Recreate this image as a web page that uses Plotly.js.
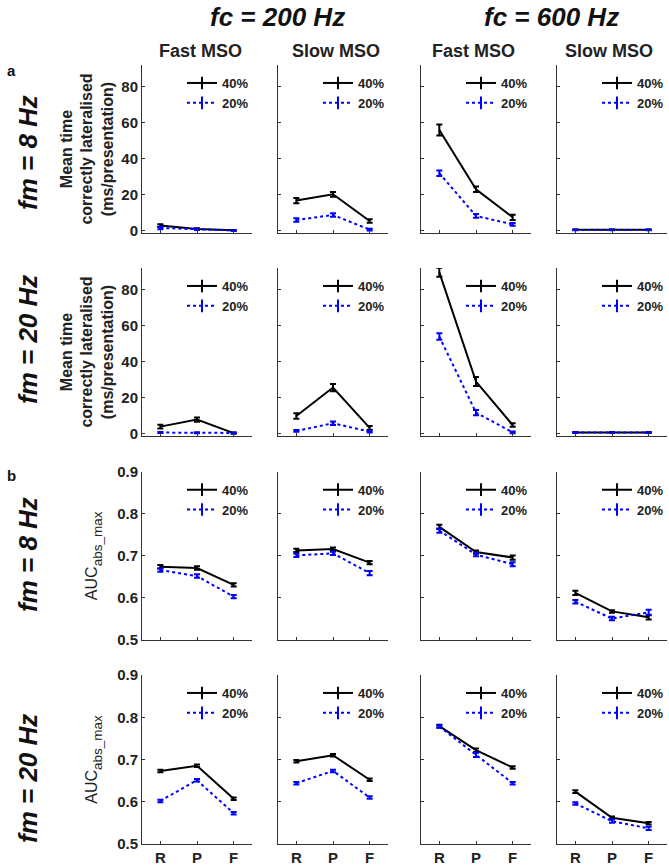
<!DOCTYPE html>
<html><head><meta charset="utf-8">
<script src="https://cdn.plot.ly/plotly-3.0.1.min.js"></script>
<style>html,body{margin:0;padding:0;background:#fff}#chart{width:669px;height:867px}</style>
</head><body><div id="chart"></div>
<script>
const categories = ['R', 'P', 'F'];
const columnTitles = ['Fast MSO', 'Slow MSO', 'Fast MSO', 'Slow MSO'];
const fcTitles = ['fc = 200 Hz', 'fc = 600 Hz'];
const rowTitles = ['fm = 8 Hz', 'fm = 20 Hz', 'fm = 8 Hz', 'fm = 20 Hz'];
const panelLetters = ['a', 'b'];
const seriesNames = ['40%', '20%'];
const timeTicks = [0, 20, 40, 60, 80];
const aucTicks = [0.5, 0.6, 0.7, 0.8, 0.9];

// columns: fc200 Fast MSO, fc200 Slow MSO, fc600 Fast MSO, fc600 Slow MSO
// a) mean time correctly lateralised (ms/presentation)
const timeFm8_40     = [[2.8, 0.9, 0.2], [16.7, 20.2, 5.4], [55.9, 23.0, 7.4], [0.5, 0.5, 0.5]];
const timeFm8_40Err  = [[0.8, 0.4, 0.2], [1.5, 1.3, 1.0], [3.0, 1.5, 1.5], [0.2, 0.2, 0.2]];
const timeFm8_20     = [[1.5, 0.7, 0.1], [5.9, 8.7, 0.6], [31.9, 8.2, 3.5], [0.4, 0.4, 0.4]];
const timeFm8_20Err  = [[0.7, 0.3, 0.1], [1.0, 1.0, 0.5], [1.5, 1.0, 0.8], [0.2, 0.2, 0.2]];
const timeFm20_40    = [[3.7, 7.6, 0.1], [9.6, 25.4, 3.0], [89.4, 28.7, 4.6], [0.5, 0.5, 0.5]];
const timeFm20_40Err = [[1.0, 1.2, 0.3], [1.5, 2.0, 1.0], [2.5, 2.5, 1.0], [0.2, 0.2, 0.2]];
const timeFm20_20    = [[0.4, 0.3, 0.2], [1.3, 5.6, 0.9], [53.7, 11.5, 0.5], [0.4, 0.4, 0.4]];
const timeFm20_20Err = [[0.3, 0.3, 0.2], [0.5, 1.0, 0.5], [1.8, 1.5, 0.5], [0.2, 0.2, 0.2]];
// b) AUC_abs_max
const aucFm8_40      = [[0.674, 0.671, 0.631], [0.713, 0.716, 0.684], [0.769, 0.709, 0.696], [0.612, 0.568, 0.554]];
const aucFm8_40Err   = [[0.004, 0.004, 0.004], [0.004, 0.004, 0.004], [0.005, 0.004, 0.005], [0.005, 0.003, 0.005]];
const aucFm8_20      = [[0.666, 0.652, 0.603], [0.701, 0.706, 0.659], [0.760, 0.703, 0.680], [0.591, 0.551, 0.566]];
const aucFm8_20Err   = [[0.004, 0.004, 0.004], [0.004, 0.004, 0.005], [0.005, 0.004, 0.005], [0.004, 0.004, 0.006]];
const aucFm20_40     = [[0.673, 0.685, 0.607], [0.696, 0.710, 0.652], [0.779, 0.722, 0.681], [0.624, 0.562, 0.549]];
const aucFm20_40Err  = [[0.003, 0.003, 0.003], [0.003, 0.003, 0.003], [0.003, 0.004, 0.003], [0.003, 0.003, 0.003]];
const aucFm20_20     = [[0.602, 0.651, 0.573], [0.644, 0.673, 0.610], [0.778, 0.711, 0.644], [0.596, 0.554, 0.537]];
const aucFm20_20Err  = [[0.003, 0.003, 0.003], [0.003, 0.003, 0.003], [0.003, 0.005, 0.003], [0.003, 0.004, 0.004]];

const rows40 = [timeFm8_40, timeFm20_40, aucFm8_40, aucFm20_40];
const rows40Err = [timeFm8_40Err, timeFm20_40Err, aucFm8_40Err, aucFm20_40Err];
const rows20 = [timeFm8_20, timeFm20_20, aucFm8_20, aucFm20_20];
const rows20Err = [timeFm8_20Err, timeFm20_20Err, aucFm8_20Err, aucFm20_20Err];

const W = 669, H = 867;
const FONT = 'Liberation Sans, Arial, sans-serif';
const INK = '#222222';
const colLeft = [142, 278, 421, 557];
const colWidth = 110;
const rowTop = [65, 268, 471.7, 675];
const rowBottom = [233, 436, 640, 844];
const yRanges = [[-1.3, 92], [-1.5, 91.8], [0.5, 0.9], [0.5, 0.9]];

const data = [];
const layout = {
  width: W, height: H,
  margin: {l: 0, r: 0, t: 0, b: 0},
  paper_bgcolor: '#fff', plot_bgcolor: '#fff',
  font: {family: FONT, color: INK},
  showlegend: true,
  annotations: []
};

for (let r = 0; r < 4; r++) {
  for (let c = 0; c < 4; c++) {
    const k = r * 4 + c + 1;
    const sfx = k === 1 ? '' : String(k);
    const xa = 'x' + sfx, ya = 'y' + sfx, lg = 'legend' + sfx;
    const styles = [
      {color: '#000000', dash: 'solid', vals: rows40[r][c], errs: rows40Err[r][c]},
      {color: '#0000ff', dash: 'dot', vals: rows20[r][c], errs: rows20Err[r][c]}
    ];
    styles.forEach((s, i) => {
      data.push({
        type: 'scatter', mode: 'lines+markers',
        x: categories, y: s.vals, name: seriesNames[i],
        xaxis: xa, yaxis: ya, legend: lg,
        line: {color: s.color, width: 2, dash: s.dash},
        marker: {symbol: 'line-ns', size: 9, color: s.color, line: {color: s.color, width: 2}},
        selectedpoints: [],
        unselected: {marker: {opacity: 0}},
        error_y: {type: 'data', array: s.errs, visible: true, color: s.color, thickness: 2, width: 3},
        hoverinfo: 'skip'
      });
    });
    const isTime = r < 2;
    layout['xaxis' + sfx] = {
      domain: [colLeft[c] / W, (colLeft[c] + colWidth) / W],
      anchor: ya, type: 'category', range: [-0.5, 2.5],
      showline: true, linecolor: '#333333', linewidth: 1,
      ticks: 'inside', ticklen: 3, tickcolor: '#333333',
      showticklabels: r === 3,
      tickfont: {family: FONT, size: 15, weight: 'bold', color: INK},
      showgrid: false, zeroline: false, fixedrange: true
    };
    const yax = {
      domain: [1 - rowBottom[r] / H, 1 - rowTop[r] / H],
      anchor: xa, range: yRanges[r],
      tickmode: 'array', tickvals: isTime ? timeTicks : aucTicks,
      showline: true, linecolor: '#333333', linewidth: 1,
      ticks: 'inside', ticklen: 3, tickcolor: '#333333',
      showticklabels: c === 0,
      tickfont: {family: FONT, size: 15, weight: 'bold', color: INK},
      showgrid: false, zeroline: false, fixedrange: true
    };
    if (c === 0) {
      yax.title = isTime
        ? {text: 'Mean time<br>correctly lateralised<br>(ms/presentation)', font: {family: FONT, size: 16, weight: 'bold', color: INK}, standoff: 3}
        : {text: 'AUC<span style="font-size:13.5px;baseline-shift:-5px">abs_max</span>', font: {family: FONT, size: 16, color: INK}, standoff: 15};
    }
    layout['yaxis' + sfx] = yax;
    layout[lg] = {
      x: (colLeft[c] + 40) / W, xanchor: 'left',
      y: 1 - (rowTop[r] + 3) / H, yanchor: 'top',
      bgcolor: 'rgba(0,0,0,0)', borderwidth: 0,
      itemsizing: 'trace',
      font: {family: FONT, size: 13, weight: 'bold', color: INK},
      itemclick: false, itemdoubleclick: false
    };
  }
}

const ann = layout.annotations;
const fcX = [277, 551];
fcTitles.forEach((t, i) => ann.push({text: t, xref: 'paper', yref: 'paper', x: fcX[i] / W, y: 1 - 17 / H, xanchor: 'center', yanchor: 'middle', showarrow: false, font: {family: FONT, size: 26, weight: 'bold', style: 'italic', color: '#111'}}));
const colX = [200, 336, 473, 609];
columnTitles.forEach((t, i) => ann.push({text: t, xref: 'paper', yref: 'paper', x: colX[i] / W, y: 1 - 51.5 / H, xanchor: 'center', yanchor: 'middle', showarrow: false, font: {family: FONT, size: 18, weight: 'bold', color: INK}}));
const rowY = [153, 340, 555, 779];
rowTitles.forEach((t, i) => ann.push({text: t, xref: 'paper', yref: 'paper', x: 28 / W, y: 1 - rowY[i] / H, xanchor: 'center', yanchor: 'middle', textangle: -90, showarrow: false, font: {family: FONT, size: 26, weight: 'bold', style: 'italic', color: '#111'}}));
const letterY = [70, 475];
panelLetters.forEach((t, i) => ann.push({text: t, xref: 'paper', yref: 'paper', x: 11 / W, y: 1 - letterY[i] / H, xanchor: 'center', yanchor: 'middle', showarrow: false, font: {family: FONT, size: 15, weight: 'bold', color: '#111'}}));

Plotly.newPlot('chart', data, layout, {staticPlot: true, displayModeBar: false});
</script>
</body></html>
